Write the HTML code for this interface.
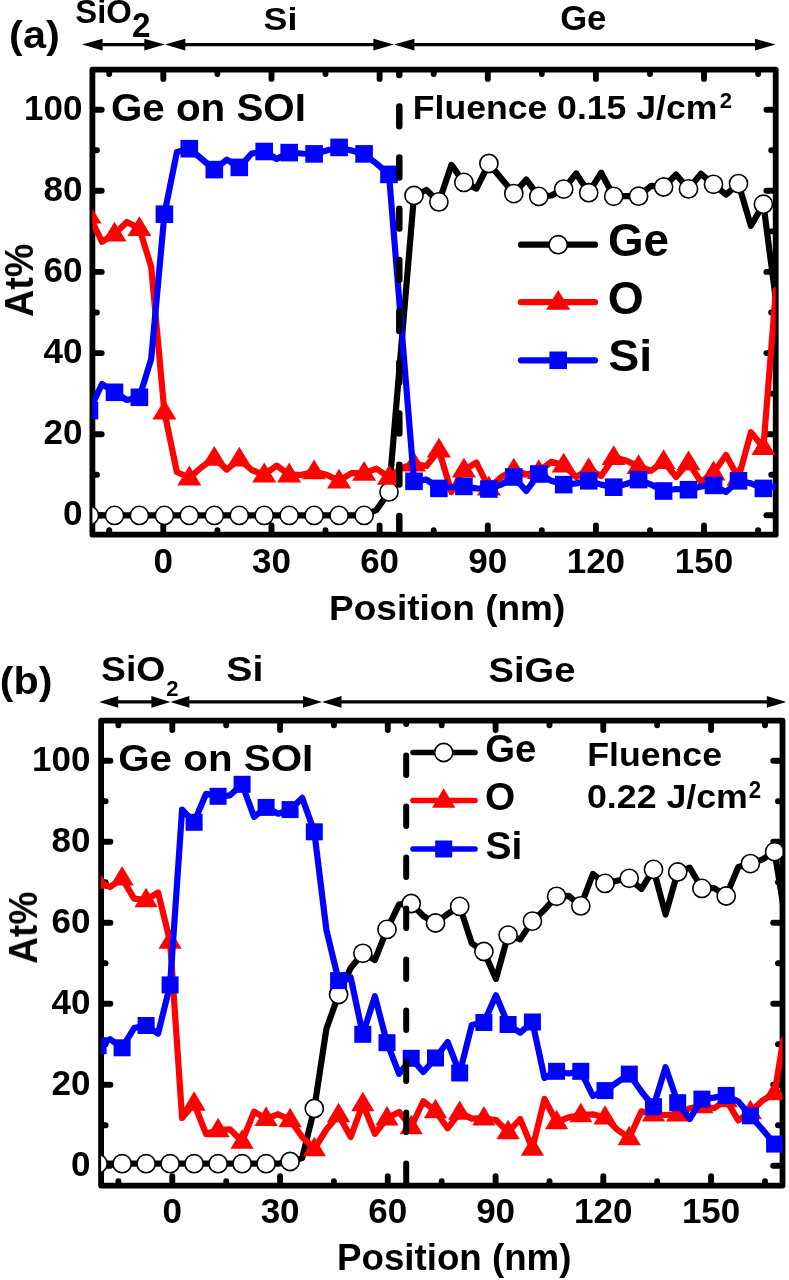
<!DOCTYPE html>
<html><head><meta charset="utf-8"><title>chart</title>
<style>html,body{margin:0;padding:0;background:#fff}svg{display:block}text{font-family:"Liberation Sans",sans-serif;font-weight:bold;fill:#000}</style>
</head><body>
<svg width="789" height="1280" viewBox="0 0 789 1280">
<rect width="789" height="1280" fill="#fff"/>
<g opacity="0.999">
<clipPath id="clipa"><rect x="92.4" y="69.6" width="683.3000000000001" height="465.1"/></clipPath>
<rect x="92.4" y="69.6" width="683.3000000000001" height="465.1" fill="none" stroke="#000" stroke-width="5.8" stroke-linejoin="round"/>
<line x1="109.2" y1="532.3" x2="109.2" y2="530.2" stroke="#000" stroke-width="5.9" stroke-linecap="round"/>
<line x1="109.2" y1="72.0" x2="109.2" y2="74.1" stroke="#000" stroke-width="5.9" stroke-linecap="round"/>
<line x1="163.3" y1="532.3" x2="163.3" y2="525.4" stroke="#000" stroke-width="5.9" stroke-linecap="round"/>
<line x1="163.3" y1="72.0" x2="163.3" y2="78.9" stroke="#000" stroke-width="5.9" stroke-linecap="round"/>
<line x1="217.4" y1="532.3" x2="217.4" y2="530.2" stroke="#000" stroke-width="5.9" stroke-linecap="round"/>
<line x1="217.4" y1="72.0" x2="217.4" y2="74.1" stroke="#000" stroke-width="5.9" stroke-linecap="round"/>
<line x1="271.5" y1="532.3" x2="271.5" y2="525.4" stroke="#000" stroke-width="5.9" stroke-linecap="round"/>
<line x1="271.5" y1="72.0" x2="271.5" y2="78.9" stroke="#000" stroke-width="5.9" stroke-linecap="round"/>
<line x1="325.5" y1="532.3" x2="325.5" y2="530.2" stroke="#000" stroke-width="5.9" stroke-linecap="round"/>
<line x1="325.5" y1="72.0" x2="325.5" y2="74.1" stroke="#000" stroke-width="5.9" stroke-linecap="round"/>
<line x1="379.6" y1="532.3" x2="379.6" y2="525.4" stroke="#000" stroke-width="5.9" stroke-linecap="round"/>
<line x1="379.6" y1="72.0" x2="379.6" y2="78.9" stroke="#000" stroke-width="5.9" stroke-linecap="round"/>
<line x1="433.7" y1="532.3" x2="433.7" y2="530.2" stroke="#000" stroke-width="5.9" stroke-linecap="round"/>
<line x1="433.7" y1="72.0" x2="433.7" y2="74.1" stroke="#000" stroke-width="5.9" stroke-linecap="round"/>
<line x1="487.8" y1="532.3" x2="487.8" y2="525.4" stroke="#000" stroke-width="5.9" stroke-linecap="round"/>
<line x1="487.8" y1="72.0" x2="487.8" y2="78.9" stroke="#000" stroke-width="5.9" stroke-linecap="round"/>
<line x1="541.8" y1="532.3" x2="541.8" y2="530.2" stroke="#000" stroke-width="5.9" stroke-linecap="round"/>
<line x1="541.8" y1="72.0" x2="541.8" y2="74.1" stroke="#000" stroke-width="5.9" stroke-linecap="round"/>
<line x1="595.9" y1="532.3" x2="595.9" y2="525.4" stroke="#000" stroke-width="5.9" stroke-linecap="round"/>
<line x1="595.9" y1="72.0" x2="595.9" y2="78.9" stroke="#000" stroke-width="5.9" stroke-linecap="round"/>
<line x1="650.0" y1="532.3" x2="650.0" y2="530.2" stroke="#000" stroke-width="5.9" stroke-linecap="round"/>
<line x1="650.0" y1="72.0" x2="650.0" y2="74.1" stroke="#000" stroke-width="5.9" stroke-linecap="round"/>
<line x1="704.0" y1="532.3" x2="704.0" y2="525.4" stroke="#000" stroke-width="5.9" stroke-linecap="round"/>
<line x1="704.0" y1="72.0" x2="704.0" y2="78.9" stroke="#000" stroke-width="5.9" stroke-linecap="round"/>
<line x1="758.1" y1="532.3" x2="758.1" y2="530.2" stroke="#000" stroke-width="5.9" stroke-linecap="round"/>
<line x1="758.1" y1="72.0" x2="758.1" y2="74.1" stroke="#000" stroke-width="5.9" stroke-linecap="round"/>
<line x1="94.8" y1="515.3" x2="101.7" y2="515.3" stroke="#000" stroke-width="5.9" stroke-linecap="round"/>
<line x1="773.3" y1="515.3" x2="766.4" y2="515.3" stroke="#000" stroke-width="5.9" stroke-linecap="round"/>
<line x1="94.8" y1="474.7" x2="96.9" y2="474.7" stroke="#000" stroke-width="5.9" stroke-linecap="round"/>
<line x1="773.3" y1="474.7" x2="771.2" y2="474.7" stroke="#000" stroke-width="5.9" stroke-linecap="round"/>
<line x1="94.8" y1="434.2" x2="101.7" y2="434.2" stroke="#000" stroke-width="5.9" stroke-linecap="round"/>
<line x1="773.3" y1="434.2" x2="766.4" y2="434.2" stroke="#000" stroke-width="5.9" stroke-linecap="round"/>
<line x1="94.8" y1="393.6" x2="96.9" y2="393.6" stroke="#000" stroke-width="5.9" stroke-linecap="round"/>
<line x1="773.3" y1="393.6" x2="771.2" y2="393.6" stroke="#000" stroke-width="5.9" stroke-linecap="round"/>
<line x1="94.8" y1="353.1" x2="101.7" y2="353.1" stroke="#000" stroke-width="5.9" stroke-linecap="round"/>
<line x1="773.3" y1="353.1" x2="766.4" y2="353.1" stroke="#000" stroke-width="5.9" stroke-linecap="round"/>
<line x1="94.8" y1="312.5" x2="96.9" y2="312.5" stroke="#000" stroke-width="5.9" stroke-linecap="round"/>
<line x1="773.3" y1="312.5" x2="771.2" y2="312.5" stroke="#000" stroke-width="5.9" stroke-linecap="round"/>
<line x1="94.8" y1="271.9" x2="101.7" y2="271.9" stroke="#000" stroke-width="5.9" stroke-linecap="round"/>
<line x1="773.3" y1="271.9" x2="766.4" y2="271.9" stroke="#000" stroke-width="5.9" stroke-linecap="round"/>
<line x1="94.8" y1="231.4" x2="96.9" y2="231.4" stroke="#000" stroke-width="5.9" stroke-linecap="round"/>
<line x1="773.3" y1="231.4" x2="771.2" y2="231.4" stroke="#000" stroke-width="5.9" stroke-linecap="round"/>
<line x1="94.8" y1="190.8" x2="101.7" y2="190.8" stroke="#000" stroke-width="5.9" stroke-linecap="round"/>
<line x1="773.3" y1="190.8" x2="766.4" y2="190.8" stroke="#000" stroke-width="5.9" stroke-linecap="round"/>
<line x1="94.8" y1="150.3" x2="96.9" y2="150.3" stroke="#000" stroke-width="5.9" stroke-linecap="round"/>
<line x1="773.3" y1="150.3" x2="771.2" y2="150.3" stroke="#000" stroke-width="5.9" stroke-linecap="round"/>
<line x1="94.8" y1="109.7" x2="101.7" y2="109.7" stroke="#000" stroke-width="5.9" stroke-linecap="round"/>
<line x1="773.3" y1="109.7" x2="766.4" y2="109.7" stroke="#000" stroke-width="5.9" stroke-linecap="round"/>
<g clip-path="url(#clipa)">
<polyline points="89.5,515.4 102.0,515.4 114.5,515.4 126.9,515.4 139.4,515.4 151.9,515.4 164.4,515.4 176.9,515.4 189.3,515.4 201.8,515.4 214.3,515.4 226.8,515.4 239.3,515.4 251.7,515.4 264.2,515.4 276.7,515.4 289.2,515.4 301.7,515.4 314.1,515.4 326.6,515.4 339.1,515.4 351.6,515.4 364.1,515.4 376.5,510.0 389.0,491.9 401.5,343.7 414.0,195.5 426.5,190.0 438.9,201.9 451.4,164.9 463.9,182.4 476.4,188.6 488.9,163.5 501.3,178.5 513.8,193.6 526.3,179.6 538.8,196.4 551.3,195.5 563.7,189.1 576.2,173.5 588.7,192.7 601.2,172.7 613.7,196.3 626.1,196.2 638.6,196.2 651.1,185.9 663.6,187.0 676.1,174.5 688.5,188.9 701.0,173.8 713.5,184.3 726.0,194.6 738.5,183.6 750.9,225.8 763.4,204.2 775.9,300.0" fill="none" stroke="#000000" stroke-width="6.2" stroke-linejoin="round" stroke-linecap="round"/>
<circle cx="89.5" cy="515.4" r="9.1" fill="#fff" stroke="#000" stroke-width="1.6"/>
<circle cx="114.5" cy="515.4" r="9.1" fill="#fff" stroke="#000" stroke-width="1.6"/>
<circle cx="139.4" cy="515.4" r="9.1" fill="#fff" stroke="#000" stroke-width="1.6"/>
<circle cx="164.4" cy="515.4" r="9.1" fill="#fff" stroke="#000" stroke-width="1.6"/>
<circle cx="189.3" cy="515.4" r="9.1" fill="#fff" stroke="#000" stroke-width="1.6"/>
<circle cx="214.3" cy="515.4" r="9.1" fill="#fff" stroke="#000" stroke-width="1.6"/>
<circle cx="239.3" cy="515.4" r="9.1" fill="#fff" stroke="#000" stroke-width="1.6"/>
<circle cx="264.2" cy="515.4" r="9.1" fill="#fff" stroke="#000" stroke-width="1.6"/>
<circle cx="289.2" cy="515.4" r="9.1" fill="#fff" stroke="#000" stroke-width="1.6"/>
<circle cx="314.1" cy="515.4" r="9.1" fill="#fff" stroke="#000" stroke-width="1.6"/>
<circle cx="339.1" cy="515.4" r="9.1" fill="#fff" stroke="#000" stroke-width="1.6"/>
<circle cx="364.1" cy="515.4" r="9.1" fill="#fff" stroke="#000" stroke-width="1.6"/>
<circle cx="389.0" cy="491.9" r="9.1" fill="#fff" stroke="#000" stroke-width="1.6"/>
<circle cx="414.0" cy="195.5" r="9.1" fill="#fff" stroke="#000" stroke-width="1.6"/>
<circle cx="438.9" cy="201.9" r="9.1" fill="#fff" stroke="#000" stroke-width="1.6"/>
<circle cx="463.9" cy="182.4" r="9.1" fill="#fff" stroke="#000" stroke-width="1.6"/>
<circle cx="488.9" cy="163.5" r="9.1" fill="#fff" stroke="#000" stroke-width="1.6"/>
<circle cx="513.8" cy="193.6" r="9.1" fill="#fff" stroke="#000" stroke-width="1.6"/>
<circle cx="538.8" cy="196.4" r="9.1" fill="#fff" stroke="#000" stroke-width="1.6"/>
<circle cx="563.7" cy="189.1" r="9.1" fill="#fff" stroke="#000" stroke-width="1.6"/>
<circle cx="588.7" cy="192.7" r="9.1" fill="#fff" stroke="#000" stroke-width="1.6"/>
<circle cx="613.7" cy="196.3" r="9.1" fill="#fff" stroke="#000" stroke-width="1.6"/>
<circle cx="638.6" cy="196.2" r="9.1" fill="#fff" stroke="#000" stroke-width="1.6"/>
<circle cx="663.6" cy="187.0" r="9.1" fill="#fff" stroke="#000" stroke-width="1.6"/>
<circle cx="688.5" cy="188.9" r="9.1" fill="#fff" stroke="#000" stroke-width="1.6"/>
<circle cx="713.5" cy="184.3" r="9.1" fill="#fff" stroke="#000" stroke-width="1.6"/>
<circle cx="738.5" cy="183.6" r="9.1" fill="#fff" stroke="#000" stroke-width="1.6"/>
<circle cx="763.4" cy="204.2" r="9.1" fill="#fff" stroke="#000" stroke-width="1.6"/>
<polyline points="89.5,216.0 102.0,241.8 114.5,234.0 126.9,222.0 139.4,228.5 151.2,266.9 164.4,412.0 176.9,472.0 189.3,477.8 201.8,467.0 214.3,458.1 226.8,469.6 239.3,459.0 251.7,470.0 264.2,474.8 276.7,465.6 289.2,474.8 301.7,474.8 314.1,471.7 326.6,474.8 339.1,480.9 351.6,473.0 364.1,473.2 376.5,468.7 389.0,477.2 401.5,468.0 414.0,464.0 426.5,466.0 438.9,450.0 451.4,492.0 463.9,470.0 476.4,462.6 488.9,488.0 501.3,477.0 513.8,470.0 526.3,474.5 538.8,471.5 551.3,461.8 563.7,465.0 576.2,477.0 588.7,469.5 601.2,476.0 613.7,457.5 626.1,460.6 638.6,466.4 651.1,470.7 663.6,461.4 676.1,477.0 688.5,462.6 701.0,482.0 713.5,472.8 726.0,455.0 738.5,478.0 750.9,432.2 763.4,447.5 775.9,290.0" fill="none" stroke="#ff0000" stroke-width="6.2" stroke-linejoin="round" stroke-linecap="round"/>
<polygon points="89.5,203.8 77.5,223.6 101.5,223.6" fill="#ff0000"/>
<polygon points="114.5,221.8 102.5,241.6 126.5,241.6" fill="#ff0000"/>
<polygon points="139.4,216.3 127.4,236.1 151.4,236.1" fill="#ff0000"/>
<polygon points="164.4,399.8 152.4,419.6 176.4,419.6" fill="#ff0000"/>
<polygon points="189.3,465.6 177.3,485.4 201.3,485.4" fill="#ff0000"/>
<polygon points="214.3,445.9 202.3,465.7 226.3,465.7" fill="#ff0000"/>
<polygon points="239.3,446.8 227.3,466.6 251.3,466.6" fill="#ff0000"/>
<polygon points="264.2,462.6 252.2,482.4 276.2,482.4" fill="#ff0000"/>
<polygon points="289.2,462.6 277.2,482.4 301.2,482.4" fill="#ff0000"/>
<polygon points="314.1,459.5 302.1,479.3 326.1,479.3" fill="#ff0000"/>
<polygon points="339.1,468.7 327.1,488.5 351.1,488.5" fill="#ff0000"/>
<polygon points="364.1,461.0 352.1,480.8 376.1,480.8" fill="#ff0000"/>
<polygon points="389.0,465.0 377.0,484.8 401.0,484.8" fill="#ff0000"/>
<polygon points="414.0,451.8 402.0,471.6 426.0,471.6" fill="#ff0000"/>
<polygon points="438.9,437.8 426.9,457.6 450.9,457.6" fill="#ff0000"/>
<polygon points="463.9,457.8 451.9,477.6 475.9,477.6" fill="#ff0000"/>
<polygon points="488.9,475.8 476.9,495.6 500.9,495.6" fill="#ff0000"/>
<polygon points="513.8,457.8 501.8,477.6 525.8,477.6" fill="#ff0000"/>
<polygon points="538.8,459.3 526.8,479.1 550.8,479.1" fill="#ff0000"/>
<polygon points="563.7,452.8 551.7,472.6 575.7,472.6" fill="#ff0000"/>
<polygon points="588.7,457.3 576.7,477.1 600.7,477.1" fill="#ff0000"/>
<polygon points="613.7,445.3 601.7,465.1 625.7,465.1" fill="#ff0000"/>
<polygon points="638.6,454.2 626.6,474.0 650.6,474.0" fill="#ff0000"/>
<polygon points="663.6,449.2 651.6,469.0 675.6,469.0" fill="#ff0000"/>
<polygon points="688.5,450.4 676.5,470.2 700.5,470.2" fill="#ff0000"/>
<polygon points="713.5,460.6 701.5,480.4 725.5,480.4" fill="#ff0000"/>
<polygon points="738.5,465.8 726.5,485.6 750.5,485.6" fill="#ff0000"/>
<polygon points="763.4,435.3 751.4,455.1 775.4,455.1" fill="#ff0000"/>
<polyline points="89.5,410.6 102.0,384.0 114.5,392.3 126.9,400.0 139.4,397.3 151.2,358.8 164.4,214.2 176.9,152.0 189.3,148.7 201.8,159.0 214.3,169.6 226.8,159.6 239.3,167.4 251.7,153.5 264.2,151.5 276.7,159.0 289.2,152.6 301.7,153.5 314.1,153.9 326.6,150.4 339.1,147.4 351.6,150.4 364.1,153.9 376.5,163.6 389.0,174.4 401.5,328.0 414.0,481.3 426.5,479.6 438.9,488.4 451.4,487.0 463.9,486.4 476.4,488.4 488.9,489.0 501.3,484.6 513.8,477.0 526.3,491.0 538.8,474.0 551.3,480.8 563.7,484.6 576.2,483.4 588.7,480.8 601.2,484.6 613.7,487.2 626.1,484.0 638.6,479.6 651.1,484.6 663.6,491.0 676.1,489.0 688.5,489.7 701.0,486.4 713.5,485.4 726.0,492.0 738.5,480.8 750.9,483.4 763.4,488.4 775.9,486.0" fill="none" stroke="#0000ff" stroke-width="6.2" stroke-linejoin="round" stroke-linecap="round"/>
<rect x="80.7" y="401.8" width="17.6" height="17.6" fill="#0000ff"/>
<rect x="105.7" y="383.5" width="17.6" height="17.6" fill="#0000ff"/>
<rect x="130.6" y="388.5" width="17.6" height="17.6" fill="#0000ff"/>
<rect x="155.6" y="205.4" width="17.6" height="17.6" fill="#0000ff"/>
<rect x="180.5" y="139.9" width="17.6" height="17.6" fill="#0000ff"/>
<rect x="205.5" y="160.8" width="17.6" height="17.6" fill="#0000ff"/>
<rect x="230.5" y="158.6" width="17.6" height="17.6" fill="#0000ff"/>
<rect x="255.4" y="142.7" width="17.6" height="17.6" fill="#0000ff"/>
<rect x="280.4" y="143.8" width="17.6" height="17.6" fill="#0000ff"/>
<rect x="305.3" y="145.1" width="17.6" height="17.6" fill="#0000ff"/>
<rect x="330.3" y="138.6" width="17.6" height="17.6" fill="#0000ff"/>
<rect x="355.3" y="145.1" width="17.6" height="17.6" fill="#0000ff"/>
<rect x="380.2" y="165.6" width="17.6" height="17.6" fill="#0000ff"/>
<rect x="405.2" y="472.5" width="17.6" height="17.6" fill="#0000ff"/>
<rect x="430.1" y="479.6" width="17.6" height="17.6" fill="#0000ff"/>
<rect x="455.1" y="477.6" width="17.6" height="17.6" fill="#0000ff"/>
<rect x="480.1" y="480.2" width="17.6" height="17.6" fill="#0000ff"/>
<rect x="505.0" y="468.2" width="17.6" height="17.6" fill="#0000ff"/>
<rect x="530.0" y="465.2" width="17.6" height="17.6" fill="#0000ff"/>
<rect x="554.9" y="475.8" width="17.6" height="17.6" fill="#0000ff"/>
<rect x="579.9" y="472.0" width="17.6" height="17.6" fill="#0000ff"/>
<rect x="604.9" y="478.4" width="17.6" height="17.6" fill="#0000ff"/>
<rect x="629.8" y="470.8" width="17.6" height="17.6" fill="#0000ff"/>
<rect x="654.8" y="482.2" width="17.6" height="17.6" fill="#0000ff"/>
<rect x="679.7" y="480.9" width="17.6" height="17.6" fill="#0000ff"/>
<rect x="704.7" y="476.6" width="17.6" height="17.6" fill="#0000ff"/>
<rect x="729.7" y="472.0" width="17.6" height="17.6" fill="#0000ff"/>
<rect x="754.6" y="479.6" width="17.6" height="17.6" fill="#0000ff"/>
</g>
<line clip-path="url(#clipa)" x1="399.3" y1="55.20" x2="399.3" y2="544.7" stroke="#000" stroke-width="6.5" stroke-dasharray="19.8 31.4" stroke-linecap="round"/>
<text x="163.3" y="573.2" font-size="35" text-anchor="middle" >0</text>
<text x="271.5" y="573.2" font-size="35" text-anchor="middle" >30</text>
<text x="379.6" y="573.2" font-size="35" text-anchor="middle" >60</text>
<text x="487.8" y="573.2" font-size="35" text-anchor="middle" >90</text>
<text x="595.9" y="573.2" font-size="35" text-anchor="middle" >120</text>
<text x="704.0" y="573.2" font-size="35" text-anchor="middle" >150</text>
<text x="82.5" y="525.4" font-size="35" text-anchor="end" >0</text>
<text x="82.5" y="444.3" font-size="35" text-anchor="end" >20</text>
<text x="82.5" y="363.2" font-size="35" text-anchor="end" >40</text>
<text x="82.5" y="282.0" font-size="35" text-anchor="end" >60</text>
<text x="82.5" y="200.9" font-size="35" text-anchor="end" >80</text>
<text x="82.5" y="119.8" font-size="35" text-anchor="end" >100</text>
<clipPath id="clipb"><rect x="101.1" y="720.7" width="681.4" height="464.89999999999986"/></clipPath>
<rect x="101.1" y="720.7" width="681.4" height="464.89999999999986" fill="none" stroke="#000" stroke-width="5.8" stroke-linejoin="round"/>
<line x1="118.4" y1="1183.2" x2="118.4" y2="1181.1" stroke="#000" stroke-width="5.9" stroke-linecap="round"/>
<line x1="118.4" y1="723.1" x2="118.4" y2="725.2" stroke="#000" stroke-width="5.9" stroke-linecap="round"/>
<line x1="172.3" y1="1183.2" x2="172.3" y2="1176.3" stroke="#000" stroke-width="5.9" stroke-linecap="round"/>
<line x1="172.3" y1="723.1" x2="172.3" y2="730.0" stroke="#000" stroke-width="5.9" stroke-linecap="round"/>
<line x1="226.2" y1="1183.2" x2="226.2" y2="1181.1" stroke="#000" stroke-width="5.9" stroke-linecap="round"/>
<line x1="226.2" y1="723.1" x2="226.2" y2="725.2" stroke="#000" stroke-width="5.9" stroke-linecap="round"/>
<line x1="280.1" y1="1183.2" x2="280.1" y2="1176.3" stroke="#000" stroke-width="5.9" stroke-linecap="round"/>
<line x1="280.1" y1="723.1" x2="280.1" y2="730.0" stroke="#000" stroke-width="5.9" stroke-linecap="round"/>
<line x1="333.9" y1="1183.2" x2="333.9" y2="1181.1" stroke="#000" stroke-width="5.9" stroke-linecap="round"/>
<line x1="333.9" y1="723.1" x2="333.9" y2="725.2" stroke="#000" stroke-width="5.9" stroke-linecap="round"/>
<line x1="387.8" y1="1183.2" x2="387.8" y2="1176.3" stroke="#000" stroke-width="5.9" stroke-linecap="round"/>
<line x1="387.8" y1="723.1" x2="387.8" y2="730.0" stroke="#000" stroke-width="5.9" stroke-linecap="round"/>
<line x1="441.7" y1="1183.2" x2="441.7" y2="1181.1" stroke="#000" stroke-width="5.9" stroke-linecap="round"/>
<line x1="441.7" y1="723.1" x2="441.7" y2="725.2" stroke="#000" stroke-width="5.9" stroke-linecap="round"/>
<line x1="495.6" y1="1183.2" x2="495.6" y2="1176.3" stroke="#000" stroke-width="5.9" stroke-linecap="round"/>
<line x1="495.6" y1="723.1" x2="495.6" y2="730.0" stroke="#000" stroke-width="5.9" stroke-linecap="round"/>
<line x1="549.5" y1="1183.2" x2="549.5" y2="1181.1" stroke="#000" stroke-width="5.9" stroke-linecap="round"/>
<line x1="549.5" y1="723.1" x2="549.5" y2="725.2" stroke="#000" stroke-width="5.9" stroke-linecap="round"/>
<line x1="603.3" y1="1183.2" x2="603.3" y2="1176.3" stroke="#000" stroke-width="5.9" stroke-linecap="round"/>
<line x1="603.3" y1="723.1" x2="603.3" y2="730.0" stroke="#000" stroke-width="5.9" stroke-linecap="round"/>
<line x1="657.2" y1="1183.2" x2="657.2" y2="1181.1" stroke="#000" stroke-width="5.9" stroke-linecap="round"/>
<line x1="657.2" y1="723.1" x2="657.2" y2="725.2" stroke="#000" stroke-width="5.9" stroke-linecap="round"/>
<line x1="711.1" y1="1183.2" x2="711.1" y2="1176.3" stroke="#000" stroke-width="5.9" stroke-linecap="round"/>
<line x1="711.1" y1="723.1" x2="711.1" y2="730.0" stroke="#000" stroke-width="5.9" stroke-linecap="round"/>
<line x1="765.0" y1="1183.2" x2="765.0" y2="1181.1" stroke="#000" stroke-width="5.9" stroke-linecap="round"/>
<line x1="765.0" y1="723.1" x2="765.0" y2="725.2" stroke="#000" stroke-width="5.9" stroke-linecap="round"/>
<line x1="103.5" y1="1165.7" x2="110.4" y2="1165.7" stroke="#000" stroke-width="5.9" stroke-linecap="round"/>
<line x1="780.1" y1="1165.7" x2="773.2" y2="1165.7" stroke="#000" stroke-width="5.9" stroke-linecap="round"/>
<line x1="103.5" y1="1125.2" x2="105.6" y2="1125.2" stroke="#000" stroke-width="5.9" stroke-linecap="round"/>
<line x1="780.1" y1="1125.2" x2="778.0" y2="1125.2" stroke="#000" stroke-width="5.9" stroke-linecap="round"/>
<line x1="103.5" y1="1084.7" x2="110.4" y2="1084.7" stroke="#000" stroke-width="5.9" stroke-linecap="round"/>
<line x1="780.1" y1="1084.7" x2="773.2" y2="1084.7" stroke="#000" stroke-width="5.9" stroke-linecap="round"/>
<line x1="103.5" y1="1044.2" x2="105.6" y2="1044.2" stroke="#000" stroke-width="5.9" stroke-linecap="round"/>
<line x1="780.1" y1="1044.2" x2="778.0" y2="1044.2" stroke="#000" stroke-width="5.9" stroke-linecap="round"/>
<line x1="103.5" y1="1003.7" x2="110.4" y2="1003.7" stroke="#000" stroke-width="5.9" stroke-linecap="round"/>
<line x1="780.1" y1="1003.7" x2="773.2" y2="1003.7" stroke="#000" stroke-width="5.9" stroke-linecap="round"/>
<line x1="103.5" y1="963.2" x2="105.6" y2="963.2" stroke="#000" stroke-width="5.9" stroke-linecap="round"/>
<line x1="780.1" y1="963.2" x2="778.0" y2="963.2" stroke="#000" stroke-width="5.9" stroke-linecap="round"/>
<line x1="103.5" y1="922.8" x2="110.4" y2="922.8" stroke="#000" stroke-width="5.9" stroke-linecap="round"/>
<line x1="780.1" y1="922.8" x2="773.2" y2="922.8" stroke="#000" stroke-width="5.9" stroke-linecap="round"/>
<line x1="103.5" y1="882.3" x2="105.6" y2="882.3" stroke="#000" stroke-width="5.9" stroke-linecap="round"/>
<line x1="780.1" y1="882.3" x2="778.0" y2="882.3" stroke="#000" stroke-width="5.9" stroke-linecap="round"/>
<line x1="103.5" y1="841.8" x2="110.4" y2="841.8" stroke="#000" stroke-width="5.9" stroke-linecap="round"/>
<line x1="780.1" y1="841.8" x2="773.2" y2="841.8" stroke="#000" stroke-width="5.9" stroke-linecap="round"/>
<line x1="103.5" y1="801.3" x2="105.6" y2="801.3" stroke="#000" stroke-width="5.9" stroke-linecap="round"/>
<line x1="780.1" y1="801.3" x2="778.0" y2="801.3" stroke="#000" stroke-width="5.9" stroke-linecap="round"/>
<line x1="103.5" y1="760.8" x2="110.4" y2="760.8" stroke="#000" stroke-width="5.9" stroke-linecap="round"/>
<line x1="780.1" y1="760.8" x2="773.2" y2="760.8" stroke="#000" stroke-width="5.9" stroke-linecap="round"/>
<g clip-path="url(#clipb)">
<polyline points="98.1,1163.7 110.1,1163.7 122.1,1163.7 134.1,1163.7 146.1,1163.7 158.1,1163.7 170.1,1163.7 182.1,1163.7 194.1,1163.7 206.1,1163.7 218.1,1163.7 230.1,1163.7 242.1,1163.7 254.1,1163.7 266.1,1163.7 278.1,1163.7 290.1,1161.5 302.2,1158.0 314.3,1108.5 326.4,1028.7 338.6,994.5 350.7,967.9 362.8,953.3 374.9,960.0 387.0,929.4 399.1,904.3 411.2,903.5 423.3,916.0 435.5,923.0 447.6,914.0 459.7,906.4 471.8,943.4 483.9,951.5 496.0,978.9 508.1,935.1 520.2,939.4 532.4,921.1 544.5,909.7 556.6,896.3 568.7,895.8 580.8,905.9 592.9,874.0 605.0,883.4 617.1,880.8 629.2,878.3 641.4,889.0 653.5,869.4 665.6,914.5 677.7,872.0 689.8,867.7 701.9,888.4 714.0,888.0 726.2,896.0 738.3,866.9 750.4,863.6 762.5,859.3 774.6,851.7 783.3,906.0" fill="none" stroke="#000000" stroke-width="6.2" stroke-linejoin="round" stroke-linecap="round"/>
<circle cx="98.1" cy="1163.7" r="9.1" fill="#fff" stroke="#000" stroke-width="1.6"/>
<circle cx="122.1" cy="1163.7" r="9.1" fill="#fff" stroke="#000" stroke-width="1.6"/>
<circle cx="146.1" cy="1163.7" r="9.1" fill="#fff" stroke="#000" stroke-width="1.6"/>
<circle cx="170.1" cy="1163.7" r="9.1" fill="#fff" stroke="#000" stroke-width="1.6"/>
<circle cx="194.1" cy="1163.7" r="9.1" fill="#fff" stroke="#000" stroke-width="1.6"/>
<circle cx="218.1" cy="1163.7" r="9.1" fill="#fff" stroke="#000" stroke-width="1.6"/>
<circle cx="242.1" cy="1163.7" r="9.1" fill="#fff" stroke="#000" stroke-width="1.6"/>
<circle cx="266.1" cy="1163.7" r="9.1" fill="#fff" stroke="#000" stroke-width="1.6"/>
<circle cx="290.1" cy="1161.5" r="9.1" fill="#fff" stroke="#000" stroke-width="1.6"/>
<circle cx="314.3" cy="1108.5" r="9.1" fill="#fff" stroke="#000" stroke-width="1.6"/>
<circle cx="338.6" cy="994.5" r="9.1" fill="#fff" stroke="#000" stroke-width="1.6"/>
<circle cx="362.8" cy="953.3" r="9.1" fill="#fff" stroke="#000" stroke-width="1.6"/>
<circle cx="387.0" cy="929.4" r="9.1" fill="#fff" stroke="#000" stroke-width="1.6"/>
<circle cx="411.2" cy="903.5" r="9.1" fill="#fff" stroke="#000" stroke-width="1.6"/>
<circle cx="435.5" cy="923.0" r="9.1" fill="#fff" stroke="#000" stroke-width="1.6"/>
<circle cx="459.7" cy="906.4" r="9.1" fill="#fff" stroke="#000" stroke-width="1.6"/>
<circle cx="483.9" cy="951.5" r="9.1" fill="#fff" stroke="#000" stroke-width="1.6"/>
<circle cx="508.1" cy="935.1" r="9.1" fill="#fff" stroke="#000" stroke-width="1.6"/>
<circle cx="532.4" cy="921.1" r="9.1" fill="#fff" stroke="#000" stroke-width="1.6"/>
<circle cx="556.6" cy="896.3" r="9.1" fill="#fff" stroke="#000" stroke-width="1.6"/>
<circle cx="580.8" cy="905.9" r="9.1" fill="#fff" stroke="#000" stroke-width="1.6"/>
<circle cx="605.0" cy="883.4" r="9.1" fill="#fff" stroke="#000" stroke-width="1.6"/>
<circle cx="629.2" cy="878.3" r="9.1" fill="#fff" stroke="#000" stroke-width="1.6"/>
<circle cx="653.5" cy="869.4" r="9.1" fill="#fff" stroke="#000" stroke-width="1.6"/>
<circle cx="677.7" cy="872.0" r="9.1" fill="#fff" stroke="#000" stroke-width="1.6"/>
<circle cx="701.9" cy="888.4" r="9.1" fill="#fff" stroke="#000" stroke-width="1.6"/>
<circle cx="726.2" cy="896.0" r="9.1" fill="#fff" stroke="#000" stroke-width="1.6"/>
<circle cx="750.4" cy="863.6" r="9.1" fill="#fff" stroke="#000" stroke-width="1.6"/>
<circle cx="774.6" cy="851.7" r="9.1" fill="#fff" stroke="#000" stroke-width="1.6"/>
<polyline points="98.1,881.5 110.1,887.0 122.1,878.3 134.1,898.6 146.1,900.0 158.1,892.5 170.1,941.5 182.1,1118.0 194.1,1103.5 206.1,1134.0 218.1,1130.0 230.1,1129.4 242.1,1141.5 254.1,1111.7 266.1,1118.8 278.1,1114.2 290.1,1120.0 302.2,1137.0 314.3,1149.0 326.4,1129.5 338.6,1115.0 350.7,1137.0 362.8,1104.0 374.9,1133.9 387.0,1118.2 399.1,1112.0 411.2,1127.0 423.3,1101.3 435.5,1111.0 447.6,1128.3 459.7,1112.6 471.8,1118.6 483.9,1118.2 496.0,1120.0 508.1,1132.0 520.2,1119.1 532.4,1148.5 544.5,1099.0 556.6,1122.0 568.7,1117.3 580.8,1115.0 592.9,1114.3 605.0,1117.4 617.1,1129.5 629.2,1138.0 641.4,1111.3 653.5,1114.3 665.6,1115.0 677.7,1114.3 689.8,1108.2 701.9,1106.0 714.0,1108.2 726.2,1100.0 738.3,1120.4 750.4,1112.0 762.5,1100.6 774.6,1093.0 783.3,1040.0" fill="none" stroke="#ff0000" stroke-width="6.2" stroke-linejoin="round" stroke-linecap="round"/>
<polygon points="98.1,869.3 86.5,888.7 109.7,888.7" fill="#ff0000"/>
<polygon points="122.1,866.1 110.5,885.5 133.7,885.5" fill="#ff0000"/>
<polygon points="146.1,887.8 134.5,907.2 157.7,907.2" fill="#ff0000"/>
<polygon points="170.1,929.3 158.5,948.7 181.7,948.7" fill="#ff0000"/>
<polygon points="194.1,1091.3 182.5,1110.7 205.7,1110.7" fill="#ff0000"/>
<polygon points="218.1,1117.8 206.5,1137.2 229.7,1137.2" fill="#ff0000"/>
<polygon points="242.1,1129.3 230.5,1148.7 253.7,1148.7" fill="#ff0000"/>
<polygon points="266.1,1106.6 254.5,1126.0 277.7,1126.0" fill="#ff0000"/>
<polygon points="290.1,1107.8 278.5,1127.2 301.7,1127.2" fill="#ff0000"/>
<polygon points="314.3,1136.8 302.7,1156.2 325.9,1156.2" fill="#ff0000"/>
<polygon points="338.6,1102.8 326.9,1122.2 350.2,1122.2" fill="#ff0000"/>
<polygon points="362.8,1091.8 351.2,1111.2 374.4,1111.2" fill="#ff0000"/>
<polygon points="387.0,1106.0 375.4,1125.4 398.6,1125.4" fill="#ff0000"/>
<polygon points="411.2,1114.8 399.6,1134.2 422.8,1134.2" fill="#ff0000"/>
<polygon points="435.5,1098.8 423.9,1118.2 447.1,1118.2" fill="#ff0000"/>
<polygon points="459.7,1100.4 448.1,1119.8 471.3,1119.8" fill="#ff0000"/>
<polygon points="483.9,1106.0 472.3,1125.4 495.5,1125.4" fill="#ff0000"/>
<polygon points="508.1,1119.8 496.5,1139.2 519.7,1139.2" fill="#ff0000"/>
<polygon points="532.4,1136.3 520.8,1155.7 544.0,1155.7" fill="#ff0000"/>
<polygon points="556.6,1109.8 545.0,1129.2 568.2,1129.2" fill="#ff0000"/>
<polygon points="580.8,1102.8 569.2,1122.2 592.4,1122.2" fill="#ff0000"/>
<polygon points="605.0,1105.2 593.4,1124.6 616.6,1124.6" fill="#ff0000"/>
<polygon points="629.2,1125.8 617.6,1145.2 640.9,1145.2" fill="#ff0000"/>
<polygon points="653.5,1102.1 641.9,1121.5 665.1,1121.5" fill="#ff0000"/>
<polygon points="677.7,1102.1 666.1,1121.5 689.3,1121.5" fill="#ff0000"/>
<polygon points="701.9,1093.8 690.3,1113.2 713.5,1113.2" fill="#ff0000"/>
<polygon points="726.2,1087.8 714.6,1107.2 737.8,1107.2" fill="#ff0000"/>
<polygon points="750.4,1099.8 738.8,1119.2 762.0,1119.2" fill="#ff0000"/>
<polygon points="774.6,1080.8 763.0,1100.2 786.2,1100.2" fill="#ff0000"/>
<polyline points="98.1,1045.7 110.1,1039.2 122.1,1047.8 134.1,1028.1 146.1,1025.5 158.1,1033.6 170.1,984.9 182.1,809.6 194.1,822.3 206.1,793.8 218.1,796.3 230.1,795.3 242.1,784.3 254.1,816.9 266.1,807.4 278.1,813.7 290.1,809.6 302.2,797.9 314.3,831.8 326.4,930.0 338.6,980.6 350.7,977.5 362.8,1034.3 374.9,996.3 387.0,1042.7 399.1,1073.8 411.2,1058.3 423.3,1072.0 435.5,1058.0 447.6,1042.0 459.7,1073.0 471.8,1025.0 483.9,1022.5 496.0,995.3 508.1,1024.5 520.2,1032.6 532.4,1022.0 544.5,1078.0 556.6,1071.3 568.7,1073.5 580.8,1071.3 592.9,1096.0 605.0,1090.6 617.1,1082.4 629.2,1074.1 641.4,1091.5 653.5,1106.7 665.6,1067.1 677.7,1102.7 689.8,1118.9 701.9,1099.1 714.0,1097.6 726.2,1095.4 738.3,1101.5 750.4,1115.8 762.5,1129.5 774.6,1144.1 783.3,1150.0" fill="none" stroke="#0000ff" stroke-width="6.2" stroke-linejoin="round" stroke-linecap="round"/>
<rect x="89.6" y="1037.2" width="17.0" height="17.0" fill="#0000ff"/>
<rect x="113.6" y="1039.3" width="17.0" height="17.0" fill="#0000ff"/>
<rect x="137.6" y="1017.0" width="17.0" height="17.0" fill="#0000ff"/>
<rect x="161.6" y="976.4" width="17.0" height="17.0" fill="#0000ff"/>
<rect x="185.6" y="813.8" width="17.0" height="17.0" fill="#0000ff"/>
<rect x="209.6" y="787.8" width="17.0" height="17.0" fill="#0000ff"/>
<rect x="233.6" y="775.8" width="17.0" height="17.0" fill="#0000ff"/>
<rect x="257.6" y="798.9" width="17.0" height="17.0" fill="#0000ff"/>
<rect x="281.6" y="801.1" width="17.0" height="17.0" fill="#0000ff"/>
<rect x="305.8" y="823.3" width="17.0" height="17.0" fill="#0000ff"/>
<rect x="330.1" y="972.1" width="17.0" height="17.0" fill="#0000ff"/>
<rect x="354.3" y="1025.8" width="17.0" height="17.0" fill="#0000ff"/>
<rect x="378.5" y="1034.2" width="17.0" height="17.0" fill="#0000ff"/>
<rect x="402.7" y="1049.8" width="17.0" height="17.0" fill="#0000ff"/>
<rect x="427.0" y="1049.5" width="17.0" height="17.0" fill="#0000ff"/>
<rect x="451.2" y="1064.5" width="17.0" height="17.0" fill="#0000ff"/>
<rect x="475.4" y="1014.0" width="17.0" height="17.0" fill="#0000ff"/>
<rect x="499.6" y="1016.0" width="17.0" height="17.0" fill="#0000ff"/>
<rect x="523.9" y="1013.5" width="17.0" height="17.0" fill="#0000ff"/>
<rect x="548.1" y="1062.8" width="17.0" height="17.0" fill="#0000ff"/>
<rect x="572.3" y="1062.8" width="17.0" height="17.0" fill="#0000ff"/>
<rect x="596.5" y="1082.1" width="17.0" height="17.0" fill="#0000ff"/>
<rect x="620.8" y="1065.6" width="17.0" height="17.0" fill="#0000ff"/>
<rect x="645.0" y="1098.2" width="17.0" height="17.0" fill="#0000ff"/>
<rect x="669.2" y="1094.2" width="17.0" height="17.0" fill="#0000ff"/>
<rect x="693.4" y="1090.6" width="17.0" height="17.0" fill="#0000ff"/>
<rect x="717.7" y="1086.9" width="17.0" height="17.0" fill="#0000ff"/>
<rect x="741.9" y="1107.3" width="17.0" height="17.0" fill="#0000ff"/>
<rect x="766.1" y="1135.6" width="17.0" height="17.0" fill="#0000ff"/>
</g>
<line clip-path="url(#clipb)" x1="406.2" y1="704.40" x2="406.2" y2="1195.6" stroke="#000" stroke-width="6" stroke-dasharray="19.6 31.4" stroke-linecap="round"/>
<text x="172.3" y="1222.6" font-size="35" text-anchor="middle" >0</text>
<text x="280.1" y="1222.6" font-size="35" text-anchor="middle" >30</text>
<text x="387.8" y="1222.6" font-size="35" text-anchor="middle" >60</text>
<text x="495.6" y="1222.6" font-size="35" text-anchor="middle" >90</text>
<text x="603.3" y="1222.6" font-size="35" text-anchor="middle" >120</text>
<text x="711.1" y="1222.6" font-size="35" text-anchor="middle" >150</text>
<text x="90.5" y="1175.6" font-size="35" text-anchor="end" >0</text>
<text x="90.5" y="1094.6" font-size="35" text-anchor="end" >20</text>
<text x="90.5" y="1013.6" font-size="35" text-anchor="end" >40</text>
<text x="90.5" y="932.7" font-size="35" text-anchor="end" >60</text>
<text x="90.5" y="851.7" font-size="35" text-anchor="end" >80</text>
<text x="90.5" y="770.7" font-size="35" text-anchor="end" >100</text>
<text transform="translate(9.1,47.6) scale(1.061,1)" font-size="39.04">(a)</text>
<text transform="translate(75.3,23.1) scale(0.995,1)" font-size="33">SiO</text>
<text transform="translate(132.1,36.5) scale(0.964,1)" font-size="34.57">2</text>
<text transform="translate(263.6,29.7) scale(1.121,1)" font-size="31.97">Si</text>
<text transform="translate(560.2,29.7) scale(1.003,1)" font-size="34.51">Ge</text>
<line x1="98.5" y1="44.6" x2="148.4" y2="44.6" stroke="#000" stroke-width="3.3"/>
<polygon points="82.1,44.6 102.6,38.7 102.6,50.5" fill="#000"/>
<polygon points="164.8,44.6 144.3,38.7 144.3,50.5" fill="#000"/>
<line x1="181.2" y1="44.6" x2="377.5" y2="44.6" stroke="#000" stroke-width="3.3"/>
<polygon points="164.8,44.6 185.3,38.7 185.3,50.5" fill="#000"/>
<polygon points="393.9,44.6 373.4,38.7 373.4,50.5" fill="#000"/>
<line x1="410.3" y1="44.6" x2="759.1" y2="44.6" stroke="#000" stroke-width="3.3"/>
<polygon points="393.9,44.6 414.4,38.7 414.4,50.5" fill="#000"/>
<polygon points="775.5,44.6 755.0,38.7 755.0,50.5" fill="#000"/>
<text transform="translate(110.9,121.0) scale(1.046,1)" font-size="38.59">Ge on SOI</text>
<text transform="translate(412.8,118.8) scale(1.056,1)" font-size="33.7">Fluence 0.15 J/cm</text>
<text transform="translate(719.8,107.7) scale(0.997,1)" font-size="22.14">2</text>
<text transform="translate(329.1,620.0) scale(1.045,1)" font-size="35.4">Position (nm)</text>
<text transform="translate(33.0,316.9) rotate(-90) scale(0.920,1)" font-size="40.99">At%</text>
<line x1="521" y1="244.7" x2="595" y2="244.7" stroke="#000" stroke-width="6.2" stroke-linecap="round"/>
<circle cx="558.2" cy="244.7" r="9.1" fill="#fff" stroke="#000" stroke-width="1.6"/>
<line x1="521" y1="302.2" x2="595" y2="302.2" stroke="#ff0000" stroke-width="6.2" stroke-linecap="round"/>
<polygon points="558.2,290.0 546.2,309.8 570.2,309.8" fill="#ff0000"/>
<line x1="521" y1="360.3" x2="595" y2="360.3" stroke="#0000ff" stroke-width="6.2" stroke-linecap="round"/>
<rect x="549.4" y="351.5" width="17.6" height="17.6" fill="#0000ff"/>
<text transform="translate(607.9,255.6) scale(0.982,1)" font-size="46.62">Ge</text>
<text transform="translate(607.8,313.7) scale(0.997,1)" font-size="46.48">O</text>
<text transform="translate(608.3,370.8) scale(1.031,1)" font-size="45.03">Si</text>
<text transform="translate(-0.3,693.7) scale(1.048,1)" font-size="39.47">(b)</text>
<text transform="translate(101.1,681.2) scale(1.076,1)" font-size="34.69">SiO</text>
<text transform="translate(166.2,696.2) scale(0.991,1)" font-size="22.29">2</text>
<text transform="translate(226.2,681.1) scale(1.118,1)" font-size="35.24">Si</text>
<text transform="translate(488.6,681.6) scale(1.077,1)" font-size="35.37">SiGe</text>
<line x1="114.4" y1="701.9" x2="155.2" y2="701.9" stroke="#000" stroke-width="3.3"/>
<polygon points="99.2,701.9 118.2,696.0 118.2,707.8" fill="#000"/>
<polygon points="170.4,701.9 151.4,696.0 151.4,707.8" fill="#000"/>
<line x1="185.6" y1="701.9" x2="306.8" y2="701.9" stroke="#000" stroke-width="3.3"/>
<polygon points="170.4,701.9 189.4,696.0 189.4,707.8" fill="#000"/>
<polygon points="322.0,701.9 303.0,696.0 303.0,707.8" fill="#000"/>
<line x1="337.6" y1="701.9" x2="770.7" y2="701.9" stroke="#000" stroke-width="3.3"/>
<polygon points="322.0,701.9 341.5,696.0 341.5,707.8" fill="#000"/>
<polygon points="786.3,701.9 766.8,696.0 766.8,707.8" fill="#000"/>
<text transform="translate(118.2,770.5) scale(1.073,1)" font-size="37.61">Ge on SOI</text>
<text transform="translate(587.3,765.5) scale(1.049,1)" font-size="34">Fluence</text>
<text transform="translate(587.0,808.3) scale(1.051,1)" font-size="34">0.22 J/cm</text>
<text transform="translate(748.8,797.6) scale(0.957,1)" font-size="23.29">2</text>
<text transform="translate(337.1,1269.7) scale(1.003,1)" font-size="36.58">Position (nm)</text>
<text transform="translate(37.0,963.8) rotate(-90) scale(0.896,1)" font-size="41.42">At%</text>
<line x1="413" y1="752.5" x2="475" y2="752.5" stroke="#000" stroke-width="5.6" stroke-linecap="round"/>
<circle cx="443.7" cy="752.5" r="9.1" fill="#fff" stroke="#000" stroke-width="1.6"/>
<line x1="413" y1="800.5" x2="475" y2="800.5" stroke="#ff0000" stroke-width="5.6" stroke-linecap="round"/>
<polygon points="443.7,788.3 432.1,807.7 455.3,807.7" fill="#ff0000"/>
<line x1="413" y1="849" x2="475" y2="849" stroke="#0000ff" stroke-width="5.6" stroke-linecap="round"/>
<rect x="435.2" y="840.5" width="17.0" height="17.0" fill="#0000ff"/>
<text transform="translate(485.2,761.5) scale(1.012,1)" font-size="37.89">Ge</text>
<text transform="translate(485.1,810.1) scale(0.982,1)" font-size="39.58">O</text>
<text transform="translate(485.5,858.7) scale(1.021,1)" font-size="38.23">Si</text>
</g>
</svg></body></html>
